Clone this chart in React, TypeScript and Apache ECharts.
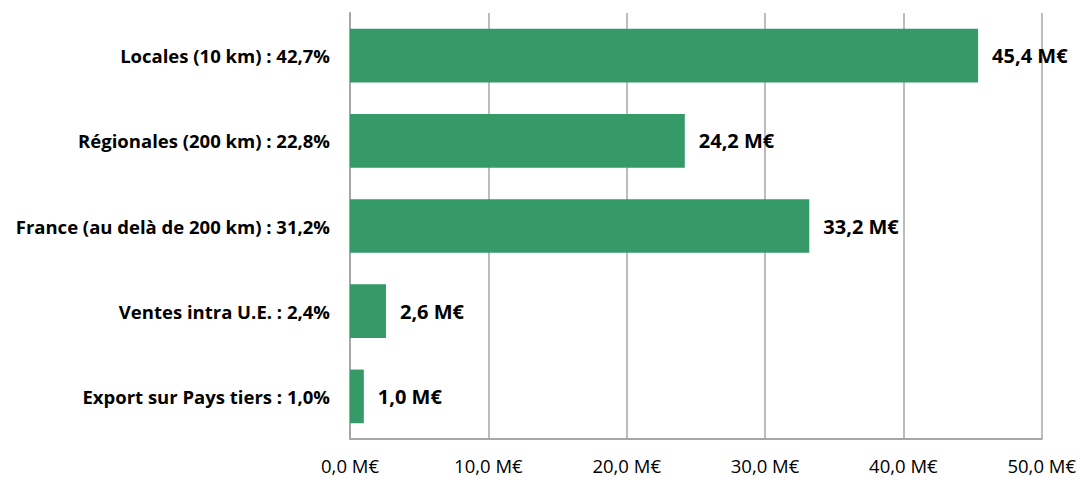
import React, { useEffect, useRef } from "react";
import * as echarts from "echarts";

const categories = [
  "Locales (10 km) : 42,7%",
  "Régionales (200 km) : 22,8%",
  "France (au delà de 200 km) : 31,2%",
  "Ventes intra U.E. : 2,4%",
  "Export sur Pays tiers : 1,0%",
];
const values = [45.4, 24.2, 33.2, 2.6, 1.0];
const axisMin = 0;
const axisMax = 50;
const axisStep = 10;

const fmt = (v: number) => v.toFixed(1).replace(".", ",") + " M€";

export default function App() {
  const ref = useRef<HTMLDivElement>(null);
  useEffect(() => {
    if (!ref.current) return;
    const chart = echarts.init(ref.current, undefined, { renderer: "svg" });
    const font = "'Open Sans', sans-serif";
    chart.setOption({
      animation: false,
      grid: { left: 350, right: 37, top: 13, bottom: 40, containLabel: false },
      xAxis: {
        type: "value",
        min: axisMin,
        max: axisMax,
        interval: axisStep,
        axisLine: { show: true, lineStyle: { color: "#A6A6A6", width: 2 } },
        axisTick: { show: false },
        splitLine: { show: true, lineStyle: { color: "#A6A6A6", width: 1.5 } },
        axisLabel: {
          formatter: (v: number) => fmt(v),
          color: "#000",
          fontFamily: font,
          fontSize: 18.5,
          margin: 17,
        },
      },
      yAxis: {
        type: "category",
        data: categories,
        inverse: true,
        axisLine: { show: true, lineStyle: { color: "#A6A6A6", width: 2 } },
        axisTick: { show: false },
        axisLabel: {
          color: "#000",
          fontFamily: font,
          fontSize: 18.5,
          fontWeight: "bold",
          margin: 20,
        },
      },
      series: [
        {
          type: "bar",
          data: values,
          barCategoryGap: "37%",
          itemStyle: { color: "#359A68" },
          label: {
            show: true,
            position: "right",
            distance: 14,
            formatter: (p: any) => fmt(p.value),
            color: "#000",
            fontFamily: font,
            fontSize: 20,
            fontWeight: "bold",
          },
        },
      ],
    });
    return () => chart.dispose();
  }, []);
  return (
    <div
      ref={ref}
      style={{ position: "absolute", left: 0, top: 0, width: 1079, height: 479, background: "#fff" }}
    />
  );
}
